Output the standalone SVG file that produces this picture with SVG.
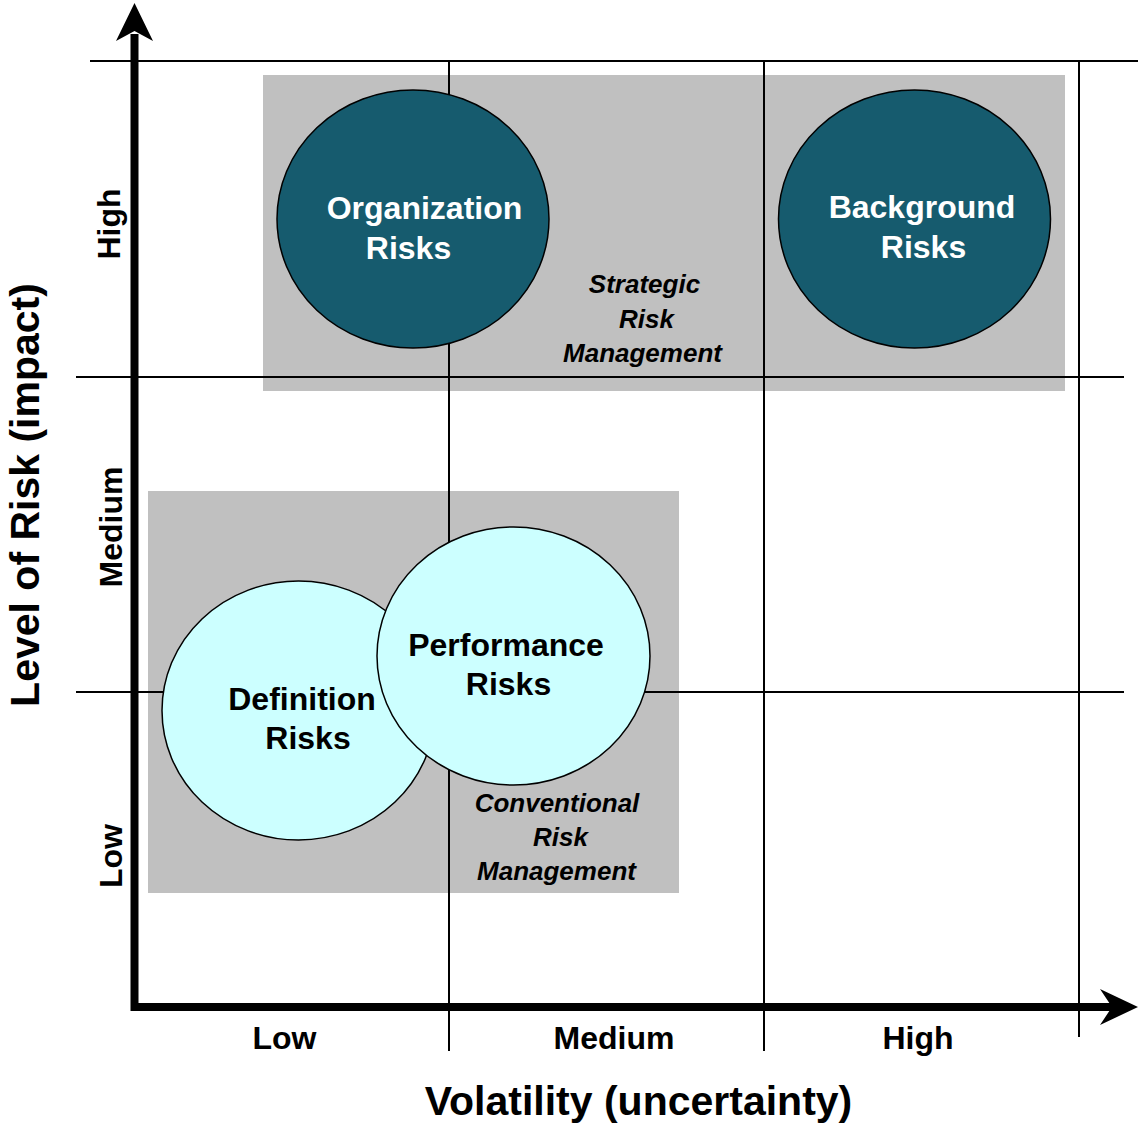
<svg xmlns="http://www.w3.org/2000/svg" width="1140" height="1126" viewBox="0 0 1140 1126">
  <defs>
    <style>
      .zone { fill: #c0c0c0; }
      .grid { stroke: #000; stroke-width: 2; fill: none; }
      .axis { stroke: #000; stroke-width: 8; fill: none; }
      .head { fill: #000; }
      .dark { fill: #165b6e; stroke: #000; stroke-width: 1.5; }
      .light { fill: #ccffff; stroke: #000; stroke-width: 1.5; }
      text { font-family: "Liberation Sans", Arial, Helvetica, sans-serif; font-weight: bold; text-anchor: middle; }
      .node-w { fill: #fff; font-size: 32px; }
      .node-b { fill: #000; font-size: 32px; }
      .zone-label { fill: #000; font-size: 26px; font-style: italic; }
      .tick { fill: #000; font-size: 32px; }
      .title { fill: #000; font-size: 41px; }
    </style>
  </defs>

  <rect width="1140" height="1126" fill="#fff"/>

  <!-- shaded management zones -->
  <g id="zones">
    <rect id="zone-strategic" class="zone" x="263" y="75" width="802" height="316"/>
    <rect id="zone-conventional" class="zone" x="148" y="491" width="531" height="402"/>
  </g>

  <!-- grid lines and axes -->
  <g id="connectors">
    <line class="grid" x1="90" y1="61" x2="1138" y2="61"/>
    <line class="grid" x1="76" y1="377" x2="1124" y2="377"/>
    <line class="grid" x1="76" y1="692" x2="1124" y2="692"/>
    <line class="grid" x1="449" y1="61" x2="449" y2="1051"/>
    <line class="grid" x1="764" y1="61" x2="764" y2="1051"/>
    <line class="grid" x1="1079" y1="61" x2="1079" y2="1037"/>

    <line class="axis" x1="134.5" y1="1011" x2="134.5" y2="34"/>
    <polygon class="head" points="134.5,3 116,41 134.5,31 153,41"/>
    <line class="axis" x1="131" y1="1007" x2="1112" y2="1007"/>
    <polygon class="head" points="1138,1007 1100,989 1112,1007 1100,1025"/>
  </g>

  <!-- risk nodes -->
  <g id="node-organization">
    <ellipse class="dark" cx="413" cy="219" rx="136" ry="129"/>
    <text class="node-w" x="424.5" y="219">Organization</text>
    <text class="node-w" x="408.5" y="259">Risks</text>
  </g>

  <g id="node-background">
    <ellipse class="dark" cx="914.5" cy="219" rx="136" ry="129"/>
    <text class="node-w" x="922" y="218">Background</text>
    <text class="node-w" x="923.5" y="258">Risks</text>
  </g>

  <g id="node-definition">
    <ellipse class="light" cx="298.5" cy="710.5" rx="136.5" ry="129.5"/>
    <text class="node-b" x="302" y="710">Definition</text>
    <text class="node-b" x="308" y="749">Risks</text>
  </g>

  <g id="node-performance">
    <ellipse class="light" cx="513.5" cy="656" rx="136.5" ry="129"/>
    <text class="node-b" x="506" y="656">Performance</text>
    <text class="node-b" x="508.5" y="695">Risks</text>
  </g>

  <!-- zone captions -->
  <g id="label-strategic">
    <text class="zone-label" x="644.5" y="293">Strategic</text>
    <text class="zone-label" x="646.5" y="328">Risk</text>
    <text class="zone-label" x="642.5" y="362">Management</text>
  </g>
  <g id="label-conventional">
    <text class="zone-label" x="557" y="812">Conventional</text>
    <text class="zone-label" x="560.5" y="846">Risk</text>
    <text class="zone-label" x="556.5" y="880">Management</text>
  </g>

  <!-- axis scale labels -->
  <g id="x-ticks">
    <text class="tick" x="284.5" y="1049">Low</text>
    <text class="tick" x="614" y="1049">Medium</text>
    <text class="tick" x="918" y="1049">High</text>
  </g>
  <g id="y-ticks">
    <text class="tick" transform="translate(120,224) rotate(-90)">High</text>
    <text class="tick" transform="translate(122,527) rotate(-90)">Medium</text>
    <text class="tick" transform="translate(122,856) rotate(-90)">Low</text>
  </g>

  <!-- axis titles -->
  <text id="x-title" class="title" x="638.5" y="1115">Volatility (uncertainty)</text>
  <text id="y-title" class="title" transform="translate(39,495) rotate(-90)">Level of Risk (impact)</text>
</svg>
